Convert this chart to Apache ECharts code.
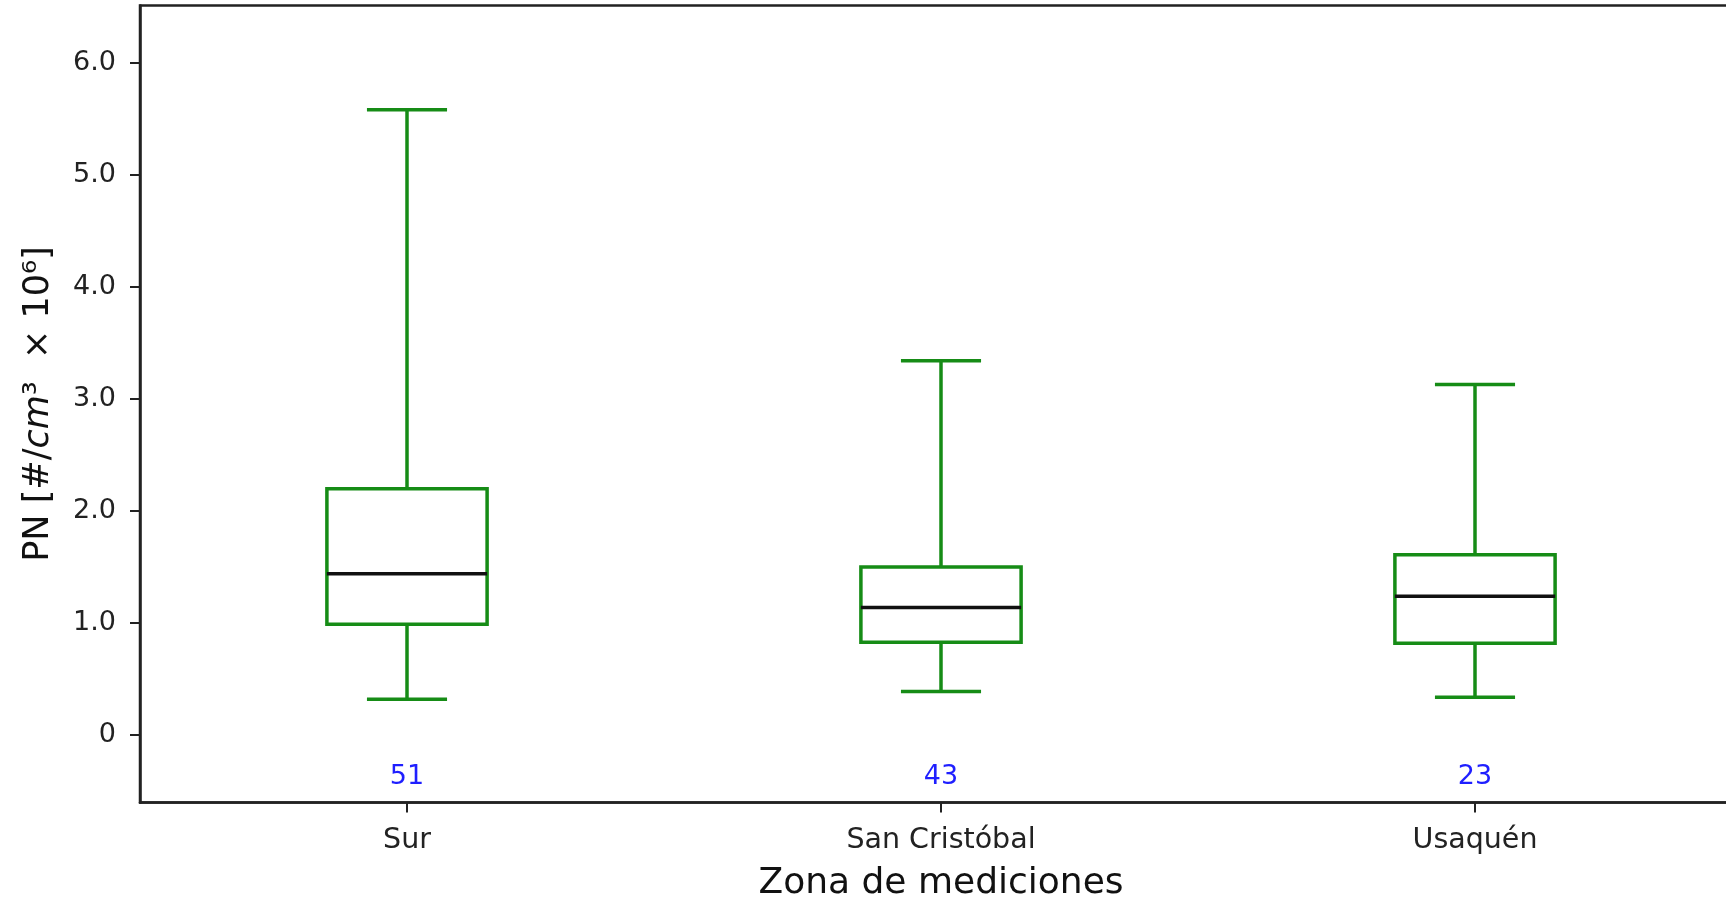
<!DOCTYPE html>
<html>
<head>
<meta charset="utf-8">
<script src="https://cdn.jsdelivr.net/npm/echarts@6/dist/echarts.min.js"></script>
<style>
  html, body { margin: 0; padding: 0; background: #fff; }
  #chart { width: 1726px; height: 905px; }
</style>
</head>
<body>
<div id="chart"></div>
<script>
// Measurement zones
const zones = ['Sur', 'San Cristóbal', 'Usaquén'];
// Five-number summaries per zone (×10^6 particles / cm³)
const whiskerLow  = [0.32, 0.39, 0.34];
const quartile1   = [0.99, 0.83, 0.82];
const medians     = [1.44, 1.14, 1.24];
const quartile3   = [2.20, 1.50, 1.61];
const whiskerHigh = [5.58, 3.34, 3.13];
// Number of samples in each zone
const sampleCounts = [51, 43, 23];
// Y tick positions
const yTicks = [0, 1, 2, 3, 4, 5, 6];

const FONT = 'DejaVu Sans';
const GREEN = '#168c16';
const Y_MIN = -0.6;
const Y_MAX = 6.51;
const COUNT_Y = -0.37;

const boxData = zones.map((z, i) => [i, whiskerLow[i], quartile1[i], medians[i], quartile3[i], whiskerHigh[i], sampleCounts[i]]);

// Box with half-width whisker caps, black median line and the sample count under it
function renderBox(params, api) {
  const idx = api.value(0);
  const band = api.size([1, 0])[0];
  const half = band * 0.15;
  const capHalf = band * 0.075;
  const pLow = api.coord([idx, api.value(1)]);
  const pQ1 = api.coord([idx, api.value(2)]);
  const pMed = api.coord([idx, api.value(3)]);
  const pQ3 = api.coord([idx, api.value(4)]);
  const pHigh = api.coord([idx, api.value(5)]);
  const pCount = api.coord([idx, COUNT_Y]);
  const cx = pMed[0];
  const green = { stroke: GREEN, lineWidth: 3.5, fill: null };
  return {
    type: 'group',
    children: [
      { type: 'line', shape: { x1: cx, y1: pQ3[1], x2: cx, y2: pHigh[1] }, style: green },
      { type: 'line', shape: { x1: cx, y1: pQ1[1], x2: cx, y2: pLow[1] }, style: green },
      { type: 'line', shape: { x1: cx - capHalf, y1: pHigh[1], x2: cx + capHalf, y2: pHigh[1] }, style: green },
      { type: 'line', shape: { x1: cx - capHalf, y1: pLow[1], x2: cx + capHalf, y2: pLow[1] }, style: green },
      { type: 'rect', shape: { x: cx - half, y: pQ3[1], width: half * 2, height: pQ1[1] - pQ3[1] }, style: { stroke: GREEN, lineWidth: 3.5, fill: '#fff' } },
      { type: 'line', shape: { x1: cx - half, y1: pMed[1], x2: cx + half, y2: pMed[1] }, style: { stroke: '#111', lineWidth: 3.5 } },
      { type: 'text', x: cx, y: pCount[1], style: { text: String(api.value(6)), fill: '#1f1fff', font: '27px "DejaVu Sans"', align: 'center', verticalAlign: 'middle' } }
    ]
  };
}

const chart = echarts.init(document.getElementById('chart'), null, { renderer: 'canvas' });
chart.setOption({
  backgroundColor: '#fff',
  animation: false,
  grid: {
    left: 140, top: 5.5, bottom: 102.5, right: -16,
    outerBoundsMode: 'none',
    show: true, borderColor: '#222', borderWidth: 2.5, backgroundColor: 'transparent'
  },
  xAxis: {
    type: 'category',
    data: zones,
    boundaryGap: true,
    name: 'Zona de mediciones',
    nameLocation: 'middle',
    nameGap: 63,
    nameTextStyle: { fontFamily: FONT, fontSize: 36, color: '#111' },
    axisLine: { show: true, onZero: false, lineStyle: { color: '#222', width: 2.5 } },
    axisTick: { show: true, alignWithLabel: true, length: 10, lineStyle: { color: '#222', width: 2 } },
    axisLabel: { fontFamily: FONT, fontSize: 28.5, color: '#222', margin: 24 },
    splitLine: { show: false }
  },
  yAxis: {
    type: 'value',
    min: Y_MIN,
    max: Y_MAX,
    name: '{t|PN [#/}{i|cm}{t|³  × 10⁶]}',
    nameLocation: 'middle',
    nameRotate: 90,
    nameGap: 84,
    nameTextStyle: {
      fontFamily: FONT, fontSize: 35, color: '#111',
      rich: {
        t: { fontFamily: FONT, fontSize: 35, color: '#111' },
        i: { fontFamily: FONT, fontSize: 35, fontStyle: 'italic', color: '#111' }
      }
    },
    axisLine: { show: true, onZero: false, lineStyle: { color: '#222', width: 2.5 } },
    axisTick: { show: true, length: 10, customValues: yTicks, lineStyle: { color: '#222', width: 2 } },
    axisLabel: {
      fontFamily: FONT, fontSize: 27, color: '#222', margin: 24,
      customValues: yTicks,
      formatter: v => (v === 0 ? '0' : v.toFixed(1))
    },
    splitLine: { show: false }
  },
  series: [{
    type: 'custom',
    renderItem: renderBox,
    encode: { x: 0, y: [1, 2, 3, 4, 5] },
    data: boxData,
    clip: false
  }]
});
</script>
</body>
</html>
